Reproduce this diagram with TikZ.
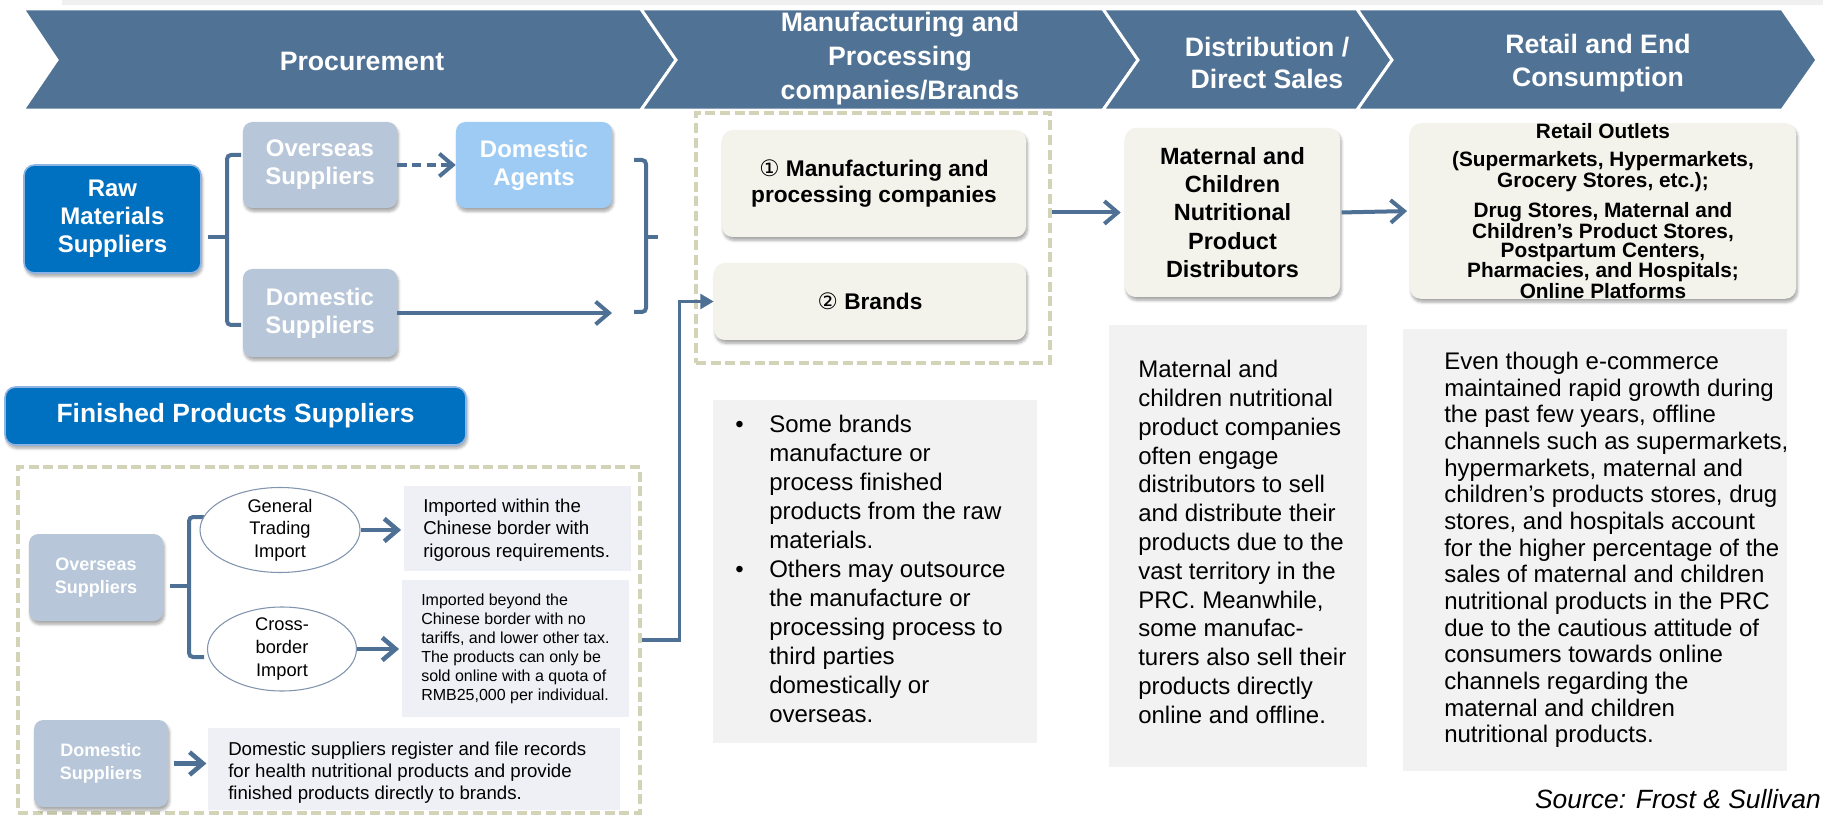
\documentclass[tikz,border=0pt]{standalone}
\usepackage{fontspec}
\setmainfont{Liberation Sans}
\newfontfamily\symfont{DejaVu Sans}
\usetikzlibrary{arrows.meta,shapes.geometric,shadows.blur}

\definecolor{chevc}{HTML}{507294}
\definecolor{linkc}{HTML}{4F7095}
\definecolor{rawblue}{HTML}{0070C0}
\definecolor{rawedge}{HTML}{8DB4E2}
\definecolor{supgray}{HTML}{B7C6D8}
\definecolor{agtblue}{HTML}{9ECBF4}
\definecolor{beigec}{HTML}{F3F3EC}
\definecolor{framec}{HTML}{D3D3B8}
\definecolor{greyc}{HTML}{F2F2F2}
\definecolor{notec}{HTML}{EEF0F5}
\definecolor{ovalc}{HTML}{8194AE}
\definecolor{topc}{HTML}{F0F0F0}

\tikzset{
  bw/.style={minimum width=#1*0.75pt},
  bh/.style={minimum height=#1*0.75pt},
  chevron/.style={fill=chevc, draw=white, line width=2.2pt, line join=miter},
  chevtext/.style={text=white, align=center, inner sep=0pt,
    font=\bfseries\fontsize{20}{24.5}\selectfont},
  softshadow/.style={blur shadow={shadow xshift=1pt, shadow yshift=-2.5pt,
    shadow blur steps=6, shadow opacity=35}},
  rawbox/.style={rectangle, rounded corners=8pt, fill=rawblue, draw=rawedge,
    line width=1.2pt, text=white, align=center, inner sep=0pt, softshadow,
    font=\bfseries\fontsize{18}{21}\selectfont},
  supbox/.style={rectangle, rounded corners=7pt, fill=supgray, text=white,
    align=center, inner sep=0pt, softshadow,
    font=\bfseries\fontsize{18}{21}\selectfont},
  agtbox/.style={supbox, fill=agtblue},
  beige/.style={rectangle, rounded corners=8pt, fill=beigec, align=center,
    inner sep=0pt, softshadow, font=\bfseries\fontsize{17}{19.5}\selectfont},
  frame/.style={rectangle, draw=framec, line width=2.6pt,
    dash pattern=on 7.5pt off 3.5pt, inner sep=0pt},
  greybox/.style={rectangle, fill=greyc, inner sep=0pt},
  notebox/.style={rectangle, fill=notec, inner sep=0pt},
  oval/.style={ellipse, draw=ovalc, line width=0.8pt, fill=white, inner sep=0pt},
  ovaltext/.style={align=center, inner sep=0pt,
    font=\fontsize{13.7}{16.9}\selectfont},
  notetext/.style={align=left, inner sep=0pt, anchor=west,
    font=\fontsize{14}{16.9}\selectfont},
  bodytext/.style={align=left, inner sep=0pt, anchor=west,
    font=\fontsize{18}{21.6}\selectfont},
  link/.style={draw=linkc, line width=3pt,
    -{Straight Barb[length=10pt,width=17pt]}},
  feed/.style={draw=linkc, line width=2.4pt,
    -{Triangle[length=10pt,width=11pt]}},
  bracket/.style={draw=linkc, line width=3pt, rounded corners=3pt},
}

\begin{document}
\begin{tikzpicture}[x=0.75pt,y=-0.75pt]
\useasboundingbox (0,0) rectangle (1823,816);

% thin strip along the top edge
\fill[topc] (62,0) rectangle (1823,5);

% stage chevrons
\path[chevron] (23,9) -- (641,9) -- (676,60) -- (641,110) -- (23,110) -- (57,60) -- cycle;
\path[chevron] (641,9) -- (1103,9) -- (1138,60) -- (1103,110) -- (641,110) -- (676,60) -- cycle;
\path[chevron] (1103,9) -- (1357,9) -- (1392,60) -- (1357,110) -- (1103,110) -- (1138,60) -- cycle;
\path[chevron] (1357,9) -- (1782,9) -- (1817,60) -- (1782,110) -- (1357,110) -- (1392,60) -- cycle;

\node[chevtext] (h1) at (362,61) {Procurement};
\node[chevtext, font=\bfseries\fontsize{20}{25.5}\selectfont] (h2) at (900,59)
  {Manufacturing and\\Processing\\companies/Brands};
\node[chevtext] (h3) at (1267,63) {Distribution /\\Direct Sales};
\node[chevtext] (h4) at (1598,63) {Retail and End\\Consumption};

% raw materials branch
\coordinate (lbmid) at (227,237);
\coordinate (rbmid) at (646,237);
\draw[bracket] (241,155) -- (227,155) -- (227,325) -- (241,325);
\draw[bracket] (634,160) -- (646,160) -- (646,312) -- (634,312);

\node[rawbox, bw=177, bh=108] (raw) at (112.5,219) {Raw\\Materials\\Suppliers};
\node[supbox, bw=154, bh=86] (ovs) at (320,165) {Overseas\\Suppliers};
\node[agtbox, bw=156, bh=86] (agt) at (534,165) {Domestic\\Agents};
\node[supbox, bw=154, bh=88] (dom) at (320,313) {Domestic\\Suppliers};

\draw[bracket, shorten <=4.5pt] (raw.east |- lbmid) -- (lbmid);
\draw[bracket] (rbmid) -- ++(12,0);
\draw[link, dash pattern=on 7pt off 4pt] (ovs.east) -- (agt.west);
\coordinate (domtip) at (612,313);
\draw[link] (dom.east) -- (domtip);

% manufacturing / brands
\node[frame, bw=354, bh=250] (mfgframe) at (873,238) {};
\node[beige, bw=304, bh=107] (mfg) at (874,183.5)
  {{\symfont\mdseries ①} Manufacturing and\\processing companies};
\node[beige, bw=312, bh=77] (brand) at (870,301.5) {{\symfont\mdseries ②} Brands};

% distribution and retail
\node[beige, bw=215, bh=169, font=\bfseries\fontsize{17.6}{21.2}\selectfont] (dist)
  at (1232.5,212.5) {Maternal and\\Children\\Nutritional\\Product\\Distributors};
\node[beige, bw=386, bh=169, font=\bfseries\fontsize{15.6}{14.2}\selectfont] (retail)
  at (1603,211) {Retail Outlets\\[7pt](Supermarkets, Hypermarkets,\\Grocery Stores, etc.);\\[7pt]Drug Stores, Maternal and\\Children’s Product Stores,\\Postpartum Centers,\\Pharmacies, and Hospitals;\\Online Platforms};

\draw[link, shorten >=3pt] (mfgframe.east |- dist.west) -- (dist.west);
\draw[link, shorten <=1pt, shorten >=2pt] (dist.east) -- (retail.west);

% finished products suppliers
\node[rawbox, bw=461, bh=58, font=\bfseries\fontsize{19.8}{24}\selectfont] (fin)
  at (235.5,416) {Finished Products Suppliers};
\node[frame, bw=622, bh=346] (finframe) at (329,640) {};

\coordinate (lb2) at (189,586);
\draw[bracket] (204,517) -- (189,517) -- (189,657) -- (204,657);

\node[supbox, bw=134, bh=87, font=\bfseries\fontsize{13.5}{16.8}\selectfont] (ovs2)
  at (96,577.5) {Overseas\\Suppliers};
\draw[bracket, shorten <=5pt] (ovs2.east |- lb2) -- (lb2);

\node[oval, bw=160, bh=85] (gti) at (280,530) {};
\node[ovaltext] (gtit) at (gti) {General\\Trading\\Import};
\node[oval, bw=149, bh=84] (cbi) at (282,649) {};
\node[ovaltext] (cbit) at (cbi) {Cross-\\border\\Import};

\node[notebox, bw=227, bh=85] (tb1) at (517.5,528.5) {};
\node[notetext] (tb1t) at (423,530)
  {Imported within the\\Chinese border with\\rigorous requirements.};
\node[notebox, bw=227, bh=137] (tb2) at (515.5,648.5) {};
\node[notetext, font=\fontsize{12}{14.25}\selectfont] (tb2t) at (421,648.5)
  {Imported beyond the\\Chinese border with no\\tariffs, and lower other tax.\\The products can only be\\sold online with a quota of\\RMB25,000 per individual.};

\draw[link, line width=3.4pt, shorten >=2pt] (gti.east) -- (gti.east -| tb1.west);
\draw[link, line width=3.4pt, shorten >=2pt] (cbi.east) -- (cbi.east -| tb2.west);

\node[supbox, bw=134, bh=87, font=\bfseries\fontsize{13.5}{17.2}\selectfont] (dom2)
  at (101,763.5) {Domestic\\Suppliers};
\node[notebox, bw=412, bh=82] (tb3) at (414,769) {};
\node[notetext, font=\fontsize{14}{16.5}\selectfont] (tb3t) at (228,773)
  {Domestic suppliers register and file records\\for health nutritional products and provide\\finished products directly to brands.};
\draw[link, line width=3.4pt, shorten <=4pt, shorten >=1pt] (dom2.east) -- (dom2.east -| tb3.west);

\draw[feed] (finframe.east) -- ++(38,0) |- (brand.west);

% explanatory notes
\node[greybox, bw=324, bh=343] (bul) at (875,571.5) {};
\node[bodytext, font=\fontsize{18}{21.75}\selectfont] (bult) at (735,569)
  {\makebox[25.5pt][l]{\textbullet}Some brands\\
   \hspace*{25.5pt}manufacture or\\
   \hspace*{25.5pt}process finished\\
   \hspace*{25.5pt}products from the raw\\
   \hspace*{25.5pt}materials.\\
   \makebox[25.5pt][l]{\textbullet}Others may outsource\\
   \hspace*{25.5pt}the manufacture or\\
   \hspace*{25.5pt}processing process to\\
   \hspace*{25.5pt}third parties\\
   \hspace*{25.5pt}domestically or\\
   \hspace*{25.5pt}overseas.};

\node[greybox, bw=258, bh=442] (distn) at (1238,546) {};
\node[bodytext] (distnt) at (1138,542)
  {Maternal and\\children nutritional\\product companies\\often engage\\distributors to sell\\and distribute their\\products due to the\\vast territory in the\\PRC. Meanwhile,\\some manufac-\\turers also sell their\\products directly\\online and offline.};

\node[greybox, bw=384, bh=442] (retn) at (1595,550) {};
\node[bodytext, font=\fontsize{18}{20}\selectfont] (retnt) at (1444,550)
  {Even though e-commerce\\maintained rapid growth during\\the past few years, offline\\channels such as supermarkets,\\hypermarkets, maternal and\\children’s products stores, drug\\stores, and hospitals account\\for the higher percentage of the\\sales of maternal and children\\nutritional products in the PRC\\due to the cautious attitude of\\consumers towards online\\channels regarding the\\maternal and children\\nutritional products.};

\node[anchor=east, inner sep=0pt, font=\itshape\fontsize{19.8}{24}\selectfont] (src)
  at (1821,799) {Source: Frost \& Sullivan};
\end{tikzpicture}
\end{document}
